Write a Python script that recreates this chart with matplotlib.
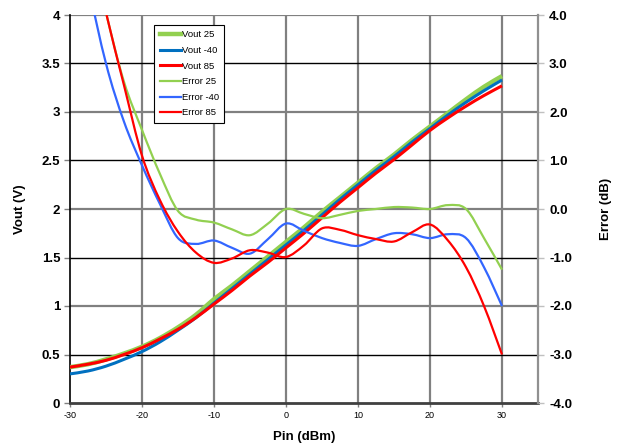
import matplotlib
matplotlib.use("Agg")
import matplotlib.pyplot as plt
import numpy as np
from matplotlib.path import Path
from matplotlib.patches import PathPatch
from matplotlib.lines import Line2D

plt.rcParams['font.family'] = ['Liberation Sans', 'DejaVu Sans']

# Pin (dBm) sample points
pin = [-30, -27.5, -25, -22.5, -20, -17.5, -15, -12.5, -10, -7.5, -5, -2.5,
       0, 2.5, 5, 7.5, 10, 12.5, 15, 17.5, 20, 22.5, 25, 27.5, 30]

# Vout (V)
vout_25 = [0.37, 0.40, 0.45, 0.51, 0.58, 0.67, 0.78, 0.91, 1.07, 1.21, 1.36, 1.51,
           1.66, 1.81, 1.97, 2.12, 2.27, 2.42, 2.56, 2.71, 2.85, 2.99, 3.13, 3.26, 3.37]
vout_m40 = [0.30, 0.33, 0.38, 0.45, 0.53, 0.63, 0.75, 0.88, 1.03, 1.18, 1.33, 1.48,
            1.63, 1.78, 1.94, 2.10, 2.25, 2.40, 2.54, 2.69, 2.83, 2.97, 3.10, 3.22, 3.33]
vout_85 = [0.37, 0.40, 0.44, 0.50, 0.57, 0.66, 0.76, 0.88, 1.02, 1.16, 1.31, 1.45,
           1.60, 1.75, 1.91, 2.07, 2.22, 2.37, 2.51, 2.66, 2.81, 2.94, 3.06, 3.17, 3.27]

# Error (dB)
err_25 = [7.8, 5.7, 4.05, 2.62, 1.63, 0.72, -0.04, -0.22, -0.28, -0.42, -0.54, -0.30,
          0.0, -0.10, -0.19, -0.12, -0.04, 0.0, 0.04, 0.03, 0.0, 0.08, 0.0, -0.60, -1.25]
err_m40 = [7.0, 4.7, 3.0, 1.8, 0.9, 0.1, -0.60, -0.72, -0.65, -0.80, -0.92, -0.62,
           -0.30, -0.45, -0.60, -0.70, -0.76, -0.62, -0.50, -0.52, -0.60, -0.52, -0.60, -1.20, -2.0]
err_85 = [7.8, 5.7, 4.05, 2.55, 1.1, 0.18, -0.47, -0.90, -1.11, -1.02, -0.85, -0.90,
          -0.99, -0.75, -0.40, -0.43, -0.54, -0.62, -0.67, -0.48, -0.32, -0.65, -1.20, -2.0, -3.0]

GREEN = '#92D050'
BLUE_DK = '#0070C0'
BLUE_LT = '#3366FF'
RED = '#FF0000'


def smooth_path(x, y):
    # smoothed line (Catmull-Rom as cubic Bezier), like the spreadsheet's smoothed lines
    x = np.asarray(x, float)
    y = np.asarray(y, float)
    n = len(x)
    verts = [(x[0], y[0])]
    codes = [Path.MOVETO]
    for i in range(n - 1):
        p0 = i - 1 if i > 0 else i
        p3 = i + 2 if i + 2 < n else i + 1
        c1 = (x[i] + (x[i + 1] - x[p0]) / 6, y[i] + (y[i + 1] - y[p0]) / 6)
        c2 = (x[i + 1] - (x[p3] - x[i]) / 6, y[i + 1] - (y[p3] - y[i]) / 6)
        verts += [c1, c2, (x[i + 1], y[i + 1])]
        codes += [Path.CURVE4] * 3
    return Path(verts, codes)


fig = plt.figure(figsize=(6.23, 4.48), dpi=100)
ax = fig.add_axes([70 / 623, 1 - 403 / 448, 468 / 623, 388 / 448])
ax2 = ax.twinx()

ax.set_xlim(-30, 35)
ax.set_ylim(0, 4)
ax2.set_ylim(-4, 4)

# grid
for gx in [-20, -10, 0, 10, 20, 30]:
    ax.axvline(gx, color='#808080', lw=1.6, zorder=0)
for gy in [1, 2, 3, 4]:
    ax.axhline(gy, color='#808080', lw=1.6, zorder=0)
for gy in [0.5, 1.5, 2.5, 3.5]:
    ax.axhline(gy, color='black', lw=1.0, zorder=0)

for yv, c, w in [(vout_25, GREEN, 3.2), (vout_m40, BLUE_DK, 2.2), (vout_85, RED, 2.2)]:
    ax.add_patch(PathPatch(smooth_path(pin, yv), fill=False, edgecolor=c, lw=w, zorder=3,
                           capstyle='butt', joinstyle='round'))
for yv, c in [(err_25, GREEN), (err_m40, BLUE_LT), (err_85, RED)]:
    ax2.add_patch(PathPatch(smooth_path(pin, yv), fill=False, edgecolor=c, lw=1.6, zorder=3,
                            capstyle='butt', joinstyle='round'))

ax.set_xticks([-30, -20, -10, 0, 10, 20, 30])
ax.set_xticklabels(['-30', '-20', '-10', '0', '10', '20', '30'], fontsize=6.5)
ax.set_yticks(np.arange(0, 4.01, 0.5))
ax.set_yticklabels(['0', '0.5', '1', '1.5', '2', '2.5', '3', '3.5', '4'],
                   fontsize=9.5, fontweight='bold')
ax2.set_yticks(np.arange(-4, 4.01, 1))
ax2.set_yticklabels(['%.1f' % v for v in np.arange(-4, 4.01, 1)], fontsize=9.5, fontweight='bold')

ax.tick_params(axis='y', length=4, width=1, color='#808080', pad=3)
ax.tick_params(axis='x', length=3, width=1, color='#808080', pad=3)
ax2.tick_params(axis='y', length=4, width=1, color='#C0C0C0', pad=4)

ax.spines['left'].set_color('black')
ax.spines['left'].set_linewidth(1.2)
ax.spines['bottom'].set_color('#404040')
ax.spines['bottom'].set_linewidth(2)
ax.spines['top'].set_visible(False)
ax.spines['right'].set_visible(False)
ax2.spines['top'].set_visible(False)
ax2.spines['left'].set_visible(False)
ax2.spines['bottom'].set_visible(False)
ax2.spines['right'].set_color('#909090')
ax2.spines['right'].set_linewidth(1.6)

ax.set_xlabel('Pin (dBm)', fontsize=9.5, fontweight='bold', labelpad=8)
ax.set_ylabel('Vout (V)', fontsize=9.5, fontweight='bold', labelpad=11)
ax2.set_ylabel('Error (dB)', fontsize=9.5, fontweight='bold', labelpad=20)

handles = [Line2D([], [], color=GREEN, lw=3.2), Line2D([], [], color=BLUE_DK, lw=2.2),
           Line2D([], [], color=RED, lw=2.2), Line2D([], [], color=GREEN, lw=1.6),
           Line2D([], [], color=BLUE_LT, lw=1.6), Line2D([], [], color=RED, lw=1.6)]
labels = ['Vout 25', 'Vout -40', 'Vout 85', 'Error 25', 'Error -40', 'Error 85']
leg = ax2.legend(handles, labels, loc='upper left', bbox_to_anchor=(0.18, 0.975),
                 fontsize=6.8, frameon=True, fancybox=False, framealpha=1,
                 edgecolor='black', handlelength=2.2, handletextpad=0.1,
                 labelspacing=0.7, borderpad=0.6, borderaxespad=0)
leg.get_frame().set_linewidth(0.8)
leg.set_zorder(10)

fig.savefig('out.png', dpi=100)
